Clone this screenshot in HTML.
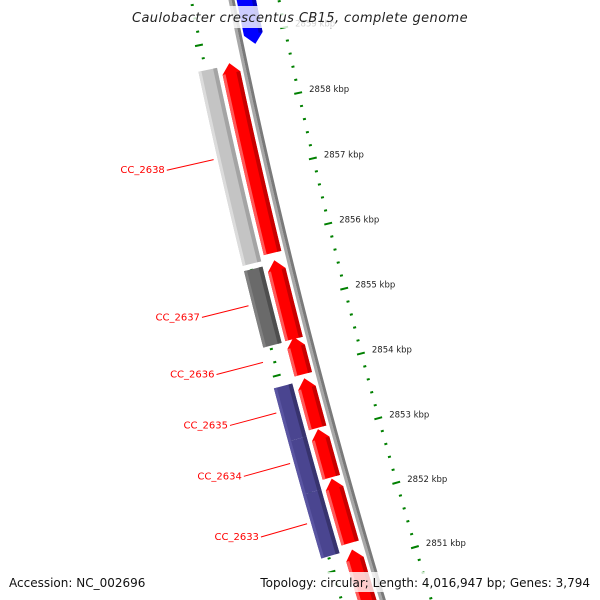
<!DOCTYPE html>
<html><head><meta charset="utf-8"><style>
html,body{margin:0;padding:0;background:#fff;width:600px;height:600px;overflow:hidden;}
svg{display:block;font-family:"DejaVu Sans","Liberation Sans",sans-serif;}
</style></head><body>
<svg id="map" width="600" height="600" viewBox="0 0 600 600" xmlns="http://www.w3.org/2000/svg">
<g id="ticks"></g>
<g id="backbone"></g>
<g id="features"></g>
<g id="labels"></g>
<g id="ticklabels"></g>
<rect x="130" y="6" width="340" height="22" fill="#fff" opacity="0.8"/>
<text x="300" y="22" text-anchor="middle" font-size="13" font-style="italic" letter-spacing="0.4" fill="#222">Caulobacter crescentus CB15, complete genome</text>
<rect x="5" y="572" width="145" height="20" fill="#fff" opacity="0.8"/>
<text x="9" y="587" font-size="12" fill="#111">Accession: NC_002696</text>
<rect x="256" y="572" width="339" height="20" fill="#fff" opacity="0.8"/>
<text x="590" y="587" text-anchor="end" font-size="12" fill="#111">Topology: circular; Length: 4,016,947 bp; Genes: 3,794</text>
</svg>
<script>
// data (kbp)
const majorTicks = [2851,2852,2853,2854,2855,2856,2857,2858,2859,2860];
const tickLabels = ["2851 kbp","2852 kbp","2853 kbp","2854 kbp","2855 kbp","2856 kbp","2857 kbp","2858 kbp","2859 kbp","2860 kbp"];
const redStarts = [2855.77,2854.46,2853.92,2853.10,2852.34,2851.33,2850.07];
const redEnds   = [2858.65,2855.66,2854.49,2853.86,2853.08,2852.32,2851.23];
const grayStarts = [2855.69,2854.45,2853.02,2852.21,2851.23];
const grayEnds   = [2858.62,2855.61,2853.83,2853.02,2852.21];
const grayKinds  = ["light","dark","purple","purple","purple"];
const blueStarts = [2858.85];
const blueEnds   = [2860.2];
const labelNames = ["CC_2638","CC_2637","CC_2636","CC_2635","CC_2634","CC_2633"];
const labelPos   = [2857.31,2855.10,2854.24,2853.47,2852.70,2851.78];

const NS="http://www.w3.org/2000/svg";
const CX=6700, CY=-1311;
function ang(k){return (167.63-(2858-k)*0.5857)*Math.PI/180;}
// r given as "old" radius (larger = further right); convert to distance from centre
function pt(k,r){const a=ang(k);const R=13200-r;return [CX+R*Math.cos(a),CY+R*Math.sin(a)];}
function mk(tag,attrs,parent){const e=document.createElementNS(NS,tag);for(const k in attrs)e.setAttribute(k,attrs[k]);parent.appendChild(e);return e;}
function band(k1,k2,r1,r2){let s=[];const n=24;for(let i=0;i<=n;i++){s.push(pt(k1+(k2-k1)*i/n,r2));}for(let i=n;i>=0;i--){s.push(pt(k1+(k2-k1)*i/n,r1));}return "M"+s.map(p=>p[0].toFixed(2)+","+p[1].toFixed(2)).join("L")+"Z";}
function arrow(k1,k2,r1,r2,tipHigh){const h=0.15;let s=[];const n=24;const rm=(r1+r2)/2;
 if(tipHigh){const kb=k2-h;for(let i=0;i<=n;i++)s.push(pt(k1+(kb-k1)*i/n,r2));s.push(pt(k2,rm));for(let i=n;i>=0;i--)s.push(pt(k1+(kb-k1)*i/n,r1));}
 else{const ka=k1+h;s.push(pt(k1,rm));for(let i=0;i<=n;i++)s.push(pt(ka+(k2-ka)*i/n,r2));for(let i=n;i>=0;i--)s.push(pt(ka+(k2-ka)*i/n,r1));}
 return "M"+s.map(p=>p[0].toFixed(2)+","+p[1].toFixed(2)).join("L")+"Z";}

// ticks
const tg=document.getElementById('ticks');
for(let i=0;i<=55;i++){const k=2849.8+i*0.2;const major=Math.abs(k-Math.round(k))<0.01;
 let a=pt(k,major?6642:6645),b=pt(k,major?6650:6648);
 const t=mk('line',{x1:a[0],y1:a[1],x2:b[0],y2:b[1],stroke:'#008000','stroke-width':2},tg);
 
 
 a=pt(k,major?6555:6559);b=pt(k,major?6563:6562);
 const u=mk('line',{x1:a[0],y1:a[1],x2:b[0],y2:b[1],stroke:'#008000','stroke-width':2},tg);
 
 }
const tl=document.getElementById('ticklabels');
majorTicks.forEach((k,i)=>{const p=pt(k,6646);const t=mk('text',{x:p[0]+11,y:p[1]-1,'font-size':'8.5',fill:'#222'},tl);t.textContent=tickLabels[i];
 
 });

// backbone
const bb=document.getElementById('backbone');
let e=mk('path',{d:band(2849,2861,6597,6600),fill:'#a8a8a8'},bb);


e=mk('path',{d:band(2849,2861,6600,6603),fill:'#7a7a7a'},bb);



const fg=document.getElementById('features');
redStarts.forEach((s,i)=>{const en=redEnds[i];
 const g=mk('g',{},fg);
 
 
 mk('path',{d:arrow(s,en,6576,6594,true),fill:'#ff0000'},g);
 mk('path',{d:band(s,en-0.15,6576,6579),fill:'#ff5a5a'},g);
 mk('path',{d:band(s,en-0.15,6590,6594),fill:'#c80000'},g);});
const cols={light:['#c4c4c4','#dcdcdc','#a4a4a4'],dark:['#6a6a6a','#808080','#4e4e4e'],purple:['#4a4590','#5a55a2','#37336e']};
grayStarts.forEach((s,i)=>{const en=grayEnds[i];const c=cols[grayKinds[i]];
 const g=mk('g',{},fg);
 
 
 mk('path',{d:band(s,en,6553,6572),fill:c[0]},g);
 mk('path',{d:band(s,en,6553,6556),fill:c[1]},g);
 mk('path',{d:band(s,en,6568,6572),fill:c[2]},g);});
blueStarts.forEach((s,i)=>{const en=blueEnds[i];
 const g=mk('g',{},fg);
 
 
 mk('path',{d:arrow(s,en,6605,6624,false),fill:'#0000ff'},g);
 mk('path',{d:band(s+0.15,en,6620,6624),fill:'#0000c0'},g);});

const lg=document.getElementById('labels');
labelNames.forEach((n,i)=>{const k=labelPos[i];const a=pt(k,6549),b=pt(k,6501);
 const l=mk('line',{x1:a[0],y1:a[1],x2:b[0],y2:b[1],stroke:'#ff0000','stroke-width':1},lg);
 
 
 const t=mk('text',{x:b[0]-2,y:b[1]+3,'text-anchor':'end','font-size':'10',fill:'#ff0000'},lg);t.textContent=n;
 
 });
</script>
</body></html>
